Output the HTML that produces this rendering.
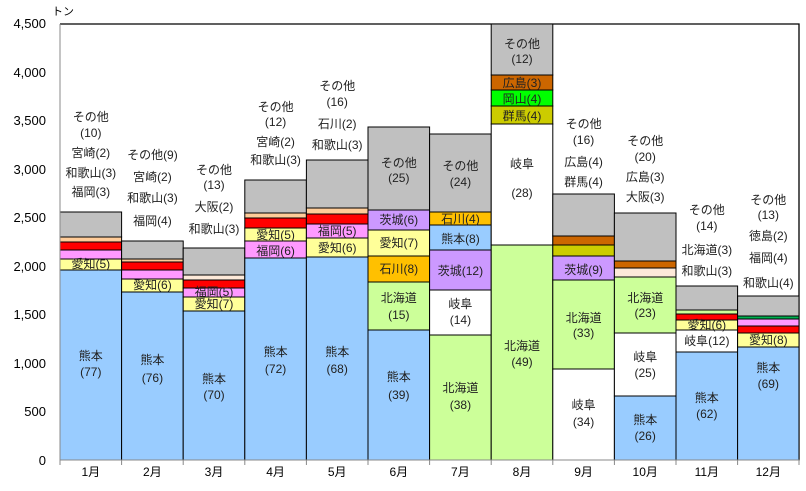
<!DOCTYPE html><html><head><meta charset="utf-8"><style>body{margin:0;background:#fff}svg{display:block;font-family:"Liberation Sans","Noto Sans CJK JP",sans-serif}</style></head><body>
<svg width="806" height="491" xmlns="http://www.w3.org/2000/svg">
<rect x="0" y="0" width="806" height="491" fill="#fff"/>
<polyline points="60,24 799,24 799,460" fill="none" stroke="#000" stroke-width="1.3"/>
<g id="bars" stroke="#000" stroke-width="1"></g>
<line x1="60" y1="24" x2="60" y2="460" stroke="#888"/>
<line x1="60" y1="460" x2="800" y2="460" stroke="#888"/>
<g font-size="13" text-anchor="end" fill="#000">
<text x="46" y="465">0</text><text x="46" y="416">500</text><text x="46" y="368">1,000</text><text x="46" y="319">1,500</text><text x="46" y="271">2,000</text><text x="46" y="222">2,500</text><text x="46" y="174">3,000</text><text x="46" y="125">3,500</text><text x="46" y="77">4,000</text><text x="46" y="28">4,500</text>
</g>
<text x="52" y="15" font-size="11">トン</text>
<g id="ticks" stroke="#888"></g>
<g id="lbl" font-size="12" text-anchor="middle" fill="#222"></g>
</svg>
<script>
const NS="http://www.w3.org/2000/svg";
function el(parent,tag,attrs,txt){const e=document.createElementNS(NS,tag);for(const k in attrs)e.setAttribute(k,attrs[k]);if(txt!==undefined)e.textContent=txt;parent.appendChild(e);return e;}
const X=[60,121.6,183.2,244.8,306.4,368,429.6,491.2,552.8,614.4,676,737.6,799];
const C={b:"#99CCFF",y:"#FFFF99",p:"#FF99FF",r:"#FF0000",pe:"#FFCC99",g:"#C0C0C0",pu:"#CC99FF",o:"#FFC000",do:"#CC6600",gr:"#00FF00",ol:"#CCCC00",lg:"#CCFF99",w:"#FFFFFF",dg:"#00B050",pe2:"#FDE9D9"};
const S=[
[[212,"g"],[237,"pe"],[242,"r"],[250,"p"],[259,"y"],[270,"b"]],
[[241,"g"],[259,"pe"],[262,"r"],[270,"p"],[279,"y"],[292,"b"]],
[[248,"g"],[275,"pe2"],[280,"r"],[288,"p"],[297,"y"],[311,"b"]],
[[180,"g"],[213,"pe"],[218,"r"],[228,"y"],[241,"p"],[258,"b"]],
[[160,"g"],[208,"pe"],[214,"r"],[224,"p"],[238,"y"],[257,"b"]],
[[127,"g"],[210,"pu"],[230,"y"],[256,"o"],[282,"lg"],[330,"b"]],
[[134,"g"],[212,"o"],[225,"b"],[250,"pu"],[290,"w"],[335,"lg"]],
[[24,"g"],[75,"do"],[90,"gr"],[106,"ol"],[124,"w"],[245,"lg"]],
[[194,"g"],[236,"do"],[245,"ol"],[256,"pu"],[280,"lg"],[369,"w"]],
[[213,"g"],[261,"do"],[268,"pe2"],[277,"lg"],[333,"w"],[396,"b"]],
[[286,"g"],[310,"lg"],[314,"r"],[320,"y"],[330,"w"],[352,"b"]],
[[296,"g"],[316,"dg"],[319,"p"],[326,"r"],[333,"y"],[347,"b"]]];
const bars=document.getElementById("bars");
S.forEach((s,i)=>{s.forEach((seg,j)=>{const t=seg[0],b=(j+1)<s.length?s[j+1][0]:460;el(bars,"rect",{x:X[i],y:t,width:X[i+1]-X[i],height:b-t,fill:C[seg[1]]});});});
const tk=document.getElementById("ticks");
for(const x of X)el(tk,"line",{x1:x,y1:460,x2:x,y2:465});
const L=[
["1月",[["その他",117],["(10)",133],["宮崎(2)",153],["和歌山(3)",173],["福岡(3)",192],["愛知(5)",264],["熊本",356],["(77)",372]]],
["2月",[["その他(9)",155],["宮崎(2)",177],["和歌山(3)",198],["福岡(4)",221],["愛知(6)",285],["熊本",360],["(76)",378]]],
["3月",[["その他",170],["(13)",185],["大阪(2)",207],["和歌山(3)",229],["福岡(5)",292],["愛知(7)",304],["熊本",379],["(70)",395]]],
["4月",[["その他",107],["(12)",122],["宮崎(2)",142],["和歌山(3)",160],["愛知(5)",235],["福岡(6)",251],["熊本",352],["(72)",369]]],
["5月",[["その他",86],["(16)",102],["石川(2)",124],["和歌山(3)",145],["福岡(5)",231],["愛知(6)",248],["熊本",352],["(68)",369]]],
["6月",[["その他",163],["(25)",178],["茨城(6)",220],["愛知(7)",243],["石川(8)",269],["北海道",298],["(15)",315],["熊本",377],["(39)",395]]],
["7月",[["その他",166],["(24)",182],["石川(4)",219],["熊本(8)",239],["茨城(12)",271],["岐阜",304],["(14)",320],["北海道",388],["(38)",405]]],
["8月",[["その他",44],["(12)",59],["広島(3)",83],["岡山(4)",99],["群馬(4)",116],["岐阜",164],["(28)",193],["北海道",346],["(49)",362]]],
["9月",[["その他",124],["(16)",140],["広島(4)",162],["群馬(4)",182],["茨城(9)",270],["北海道",318],["(33)",333],["岐阜",405],["(34)",422]]],
["10月",[["その他",141],["(20)",157],["広島(3)",177],["大阪(3)",197],["北海道",298],["(23)",313],["岐阜",357],["(25)",373],["熊本",420],["(26)",436]]],
["11月",[["その他",210],["(14)",226],["北海道(3)",250],["和歌山(3)",271],["愛知(6)",325],["岐阜(12)",341],["熊本",398],["(62)",414]]],
["12月",[["その他",200],["(13)",215],["徳島(2)",236],["福岡(4)",258],["和歌山(4)",283],["愛知(8)",340],["熊本",368],["(69)",384]]]];
const lb=document.getElementById("lbl");
L.forEach((m,i)=>{const cx=(X[i]+X[i+1])/2;el(lb,"text",{x:cx,y:476,fill:"#000"},m[0]);m[1].forEach(a=>{el(lb,"text",{x:cx,y:a[1]+4},a[0]);});});
</script>
</body></html>
